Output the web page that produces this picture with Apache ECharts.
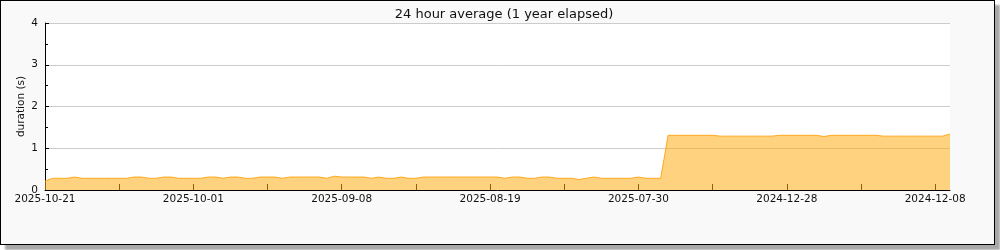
<!DOCTYPE html>
<html>
<head>
<meta charset="utf-8">
<script src="https://cdn.jsdelivr.net/npm/echarts@6/dist/echarts.min.js"></script>
<style>
  html, body { margin: 0; padding: 0; background: #ffffff; }
  #box { position: absolute; left: 0; top: 0; width: 993px; height: 243px;
         border: 1px solid #000; background: #f9f9f9; box-shadow: 5px 5px 2px #a8a8a8; }
  #chart { position: absolute; left: 0; top: 0; width: 993px; height: 243px; }
</style>
</head>
<body>
<div id="box"><div id="chart"></div></div>
<script>
const titleText = '24 hour average (1 year elapsed)';
const yAxisName = 'duration (s)';
const tickLabels = ['2025-10-21', '2025-10-01', '2025-09-08', '2025-08-19', '2025-07-30', '2024-12-28', '2024-12-08'];
const pointsPerLabel = 20;
const durations = [
  0.21,0.28,0.28,0.28,0.31,0.28,0.28,0.28,0.28,0.28,
  0.28,0.28,0.31,0.31,0.28,0.28,0.31,0.31,0.28,0.28,
  0.28,0.28,0.31,0.31,0.28,0.31,0.31,0.28,0.28,0.31,
  0.31,0.31,0.28,0.31,0.31,0.31,0.31,0.31,0.28,0.33,
  0.31,0.31,0.31,0.31,0.28,0.31,0.28,0.28,0.31,0.28,
  0.28,0.31,0.31,0.31,0.31,0.31,0.31,0.31,0.31,0.31,
  0.31,0.31,0.28,0.31,0.31,0.28,0.28,0.31,0.31,0.28,
  0.28,0.28,0.25,0.28,0.31,0.28,0.28,0.28,0.28,0.28,
  0.31,0.28,0.28,0.28,1.31,1.31,1.31,1.31,1.31,1.31,
  1.31,1.29,1.29,1.29,1.29,1.29,1.29,1.29,1.29,1.31,
  1.31,1.31,1.31,1.31,1.31,1.28,1.31,1.31,1.31,1.31,
  1.31,1.31,1.31,1.29,1.29,1.29,1.29,1.29,1.29,1.29,
  1.29,1.29,1.34
];
const categories = durations.map((v, i) => (i % pointsPerLabel === 0 && tickLabels[i / pointsPerLabel]) ? tickLabels[i / pointsPerLabel] : '');

const font = 'DejaVu Sans';
const chart = echarts.init(document.getElementById('chart'), null, { renderer: 'canvas' });
chart.setOption({
  animation: false,
  backgroundColor: 'transparent',
  title: {
    text: titleText, left: 498, top: 2, textAlign: 'center',
    textStyle: { fontFamily: font, fontSize: 13, fontWeight: 'normal', color: '#111' }
  },
  grid: { left: 44, right: 44, top: 22, bottom: 54, containLabel: false, backgroundColor: '#ffffff', show: true, borderWidth: 0 },
  xAxis: {
    type: 'category', data: categories, boundaryGap: false,
    axisLine: { lineStyle: { color: '#000', width: 1 } },
    axisTick: { show: true, inside: true, length: 6, interval: 9, lineStyle: { color: '#000' } },
    axisLabel: { interval: pointsPerLabel - 1, fontFamily: font, fontSize: 10.5, color: '#111', margin: 4 },
    splitLine: { show: false }
  },
  yAxis: {
    type: 'value', min: 0, max: 4, interval: 1,
    name: yAxisName, nameLocation: 'middle', nameGap: 18, nameMoveOverlap: false,
    nameTextStyle: { fontFamily: font, fontSize: 10.5, color: '#111' },
    axisLine: { show: true, lineStyle: { color: '#000', width: 1 } },
    axisTick: { show: true, inside: true, length: 4, lineStyle: { color: '#000' } },
    minorTick: { show: true, splitNumber: 2, length: 3, lineStyle: { color: '#000' } },
    axisLabel: { fontFamily: font, fontSize: 10.5, color: '#111', margin: 7 },
    splitLine: { show: true, lineStyle: { color: '#cccccc', width: 1 } }
  },
  series: [{
    type: 'line', data: durations, showSymbol: false, symbol: 'none',
    lineStyle: { color: '#ffa81c', width: 1 },
    areaStyle: { color: 'rgba(255,173,24,0.55)', opacity: 1 },
    z: 2
  }]
});
</script>
</body>
</html>
